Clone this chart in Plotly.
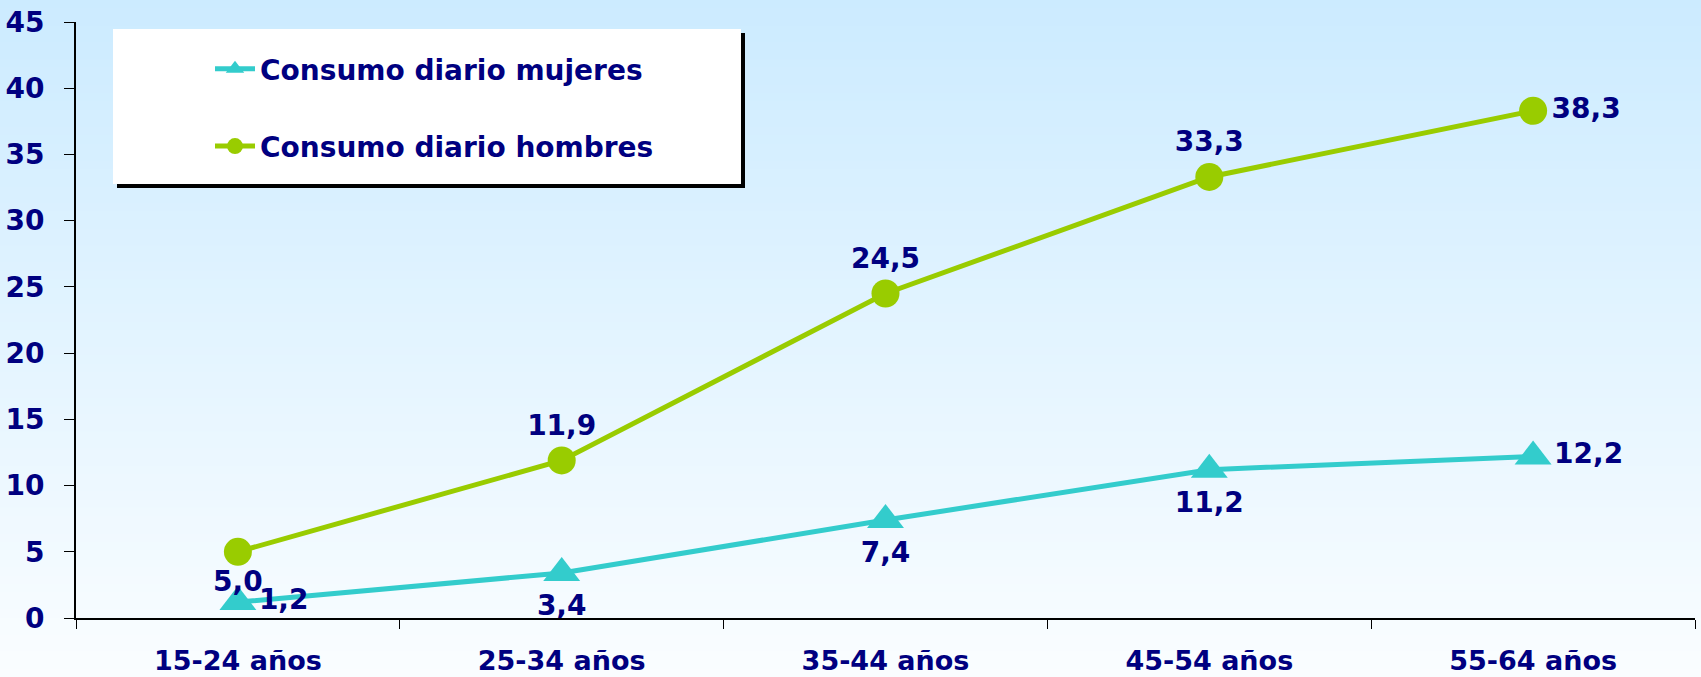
import plotly.graph_objects as go

categories = ["15-24 años", "25-34 años", "35-44 años", "45-54 años", "55-64 años"]
mujeres = [1.2, 3.4, 7.4, 11.2, 12.2]
hombres = [5.0, 11.9, 24.5, 33.3, 38.3]
y_ticks = [0, 5, 10, 15, 20, 25, 30, 35, 40, 45]

NAVY = "#000080"
FONT = "DejaVu Sans"
W, H = 1701, 677
ML, MR, MT, MB = 76, 6, 22, 59

def fmt(v):
    return f"{v:.1f}".replace(".", ",")

fig = go.Figure()
fig.add_trace(go.Scatter(
    x=categories, y=mujeres, name="Consumo diario mujeres", legendgroup="m",
    mode="lines+markers+text",
    line=dict(color="#33CCCC", width=5),
    marker=dict(symbol="triangle-up", size=32, color="#33CCCC"),
    text=[fmt(v) for v in mujeres],
    textposition=["middle right", "bottom center", "bottom center", "bottom center", "middle right"],
    textfont=dict(family=FONT, size=28, color=NAVY, weight="bold"),
    cliponaxis=False,
))
fig.add_trace(go.Scatter(
    x=categories, y=hombres, name="Consumo diario hombres", legendgroup="h",
    mode="lines+markers+text",
    line=dict(color="#99CC00", width=5),
    marker=dict(symbol="circle", size=28, color="#99CC00"),
    text=[fmt(v) for v in hombres],
    textposition=["bottom center", "top center", "top center", "top center", "middle right"],
    textfont=dict(family=FONT, size=28, color=NAVY, weight="bold"),
    cliponaxis=False,
))

pw = W - ML - MR
ph = H - MT - MB
def px2x(px):
    return (px - ML) / pw
def px2y(py):
    return 1 - (py - MT) / ph

# gradient background
shapes = []
N = 80
top = (204, 235, 255)
bot = (250, 253, 255)
for i in range(N):
    t = i / (N - 1)
    c = tuple(round(top[k] + (bot[k] - top[k]) * t) for k in range(3))
    py0 = i * H / N
    py1 = (i + 1) * H / N + 1
    shapes.append(dict(type="rect", xref="paper", yref="paper",
                       x0=px2x(-2), x1=px2x(W + 2),
                       y0=px2y(py1), y1=px2y(py0), fillcolor=f"rgb{c}", line=dict(width=0), layer="below"))

# legend box (shadow + white)
shapes.append(dict(type="rect", xref="paper", yref="paper",
                   x0=px2x(117), x1=px2x(745), y0=px2y(188), y1=px2y(33),
                   fillcolor="black", line=dict(width=0), layer="below"))
shapes.append(dict(type="rect", xref="paper", yref="paper",
                   x0=px2x(113), x1=px2x(741), y0=px2y(184), y1=px2y(29),
                   fillcolor="white", line=dict(width=0), layer="below"))

fig.update_layout(
    width=W, height=H,
    margin=dict(l=ML, r=MR, t=MT, b=MB),
    paper_bgcolor="rgb(250,253,255)", plot_bgcolor="rgba(0,0,0,0)",
    shapes=shapes,
    showlegend=True,
    legend=dict(x=px2x(210), y=px2y(44), xanchor="left", yanchor="top",
                bgcolor="rgba(0,0,0,0)", borderwidth=0,
                font=dict(family=FONT, size=28, color=NAVY, weight="bold"),
                tracegroupgap=38, itemwidth=40),
    xaxis=dict(range=[-0.5, 4.5], showline=True, linecolor="black", linewidth=2,
               ticks="outside", tickson="boundaries", ticklen=9, tickcolor="black", tickwidth=1,
               showgrid=False, zeroline=False, automargin=False,
               tickfont=dict(family=FONT, size=27, color=NAVY, weight="bold"), ticklabelstandoff=18),
    yaxis=dict(range=[0, 45], tickvals=y_ticks, showline=True, linecolor="black", linewidth=2,
               ticks="outside", ticklen=10, tickcolor="black", tickwidth=1,
               showgrid=False, zeroline=False, automargin=False,
               tickfont=dict(family=FONT, size=28, color=NAVY, weight="bold"), ticklabelstandoff=14),
)

fig.write_html("out.html", config={"displayModeBar": False},
               post_script="document.body.style.margin='0';document.body.style.padding='0';document.body.style.overflow='hidden';")
